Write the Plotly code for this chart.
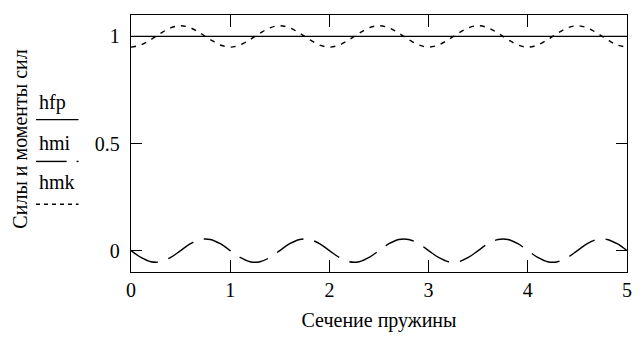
import plotly.graph_objects as go

x_vals = [round(i * 0.1, 1) for i in range(51)]

hfp = [1.0] * 51

hmi = [0.000, -0.032, -0.052, -0.052, -0.032, 0.000, 0.032, 0.052, 0.052, 0.032,
       0.000, -0.032, -0.052, -0.052, -0.032, 0.000, 0.032, 0.052, 0.052, 0.032,
       0.000, -0.032, -0.052, -0.052, -0.032, 0.000, 0.032, 0.052, 0.052, 0.032,
       0.000, -0.032, -0.052, -0.052, -0.032, 0.000, 0.032, 0.052, 0.052, 0.032,
       0.000, -0.032, -0.052, -0.052, -0.032, 0.000, 0.032, 0.052, 0.052, 0.032,
       0.000]

hmk = [0.950, 0.960, 0.985, 1.015, 1.040, 1.050, 1.040, 1.015, 0.985, 0.960,
       0.950, 0.960, 0.985, 1.015, 1.040, 1.050, 1.040, 1.015, 0.985, 0.960,
       0.950, 0.960, 0.985, 1.015, 1.040, 1.050, 1.040, 1.015, 0.985, 0.960,
       0.950, 0.960, 0.985, 1.015, 1.040, 1.050, 1.040, 1.015, 0.985, 0.960,
       0.950, 0.960, 0.985, 1.015, 1.040, 1.050, 1.040, 1.015, 0.985, 0.960,
       0.950]

x_ticks = [0, 1, 2, 3, 4, 5]
y_ticks = [0, 0.5, 1]
y_tick_text = ["0", "0.5", "1"]
series_names = ["hfp", "hmi", "hmk"]

FONT = "Liberation Serif"

fig = go.Figure()
fig.add_trace(go.Scatter(x=x_vals, y=hfp, mode="lines", name="hfp",
                         line=dict(color="black", width=1.4)))
fig.add_trace(go.Scatter(x=x_vals, y=hmi, mode="lines", name="hmi",
                         line=dict(color="black", width=1.4, dash="30px,11px", shape="spline")))
fig.add_trace(go.Scatter(x=x_vals, y=hmk, mode="lines", name="hmk",
                         line=dict(color="black", width=1.4, dash="5px,6px", shape="spline")))

# layout helpers in pixel -> paper conversion
L, R, T, B = 131, 632, 15, 273
W, H = R - L, B - T
def px(xp):
    return (xp - L) / W
def py(yp):
    return (B - yp) / H

annotations = []
shapes = []
legend_items = [
    (series_names[0], 103, 120, "solid"),
    (series_names[1], 143, 162, "12px,5px"),
    (series_names[2], 183, 205, "4px,4px"),
]
for name, ty, ly, dash in legend_items:
    annotations.append(dict(text=name, x=px(36), y=py(ty), xref="paper", yref="paper",
                            xanchor="left", yanchor="middle", showarrow=False,
                            font=dict(family=FONT, size=20, color="black")))
    if name == "hmi":
        shapes.append(dict(type="line", xref="paper", yref="paper",
                           x0=px(35), x1=px(66), y0=py(ly), y1=py(ly),
                           line=dict(color="black", width=1.4)))
        shapes.append(dict(type="line", xref="paper", yref="paper",
                           x0=px(76), x1=px(78), y0=py(ly), y1=py(ly),
                           line=dict(color="black", width=1.4)))
    else:
        shapes.append(dict(type="line", xref="paper", yref="paper",
                           x0=px(35), x1=px(78), y0=py(ly), y1=py(ly),
                           line=dict(color="black", width=1.4, dash=dash)))

annotations.append(dict(text="Силы и моменты сил", x=px(18), y=py(140),
                        xref="paper", yref="paper", textangle=-90,
                        showarrow=False, xanchor="center", yanchor="middle",
                        font=dict(family=FONT, size=20, color="black")))

fig.update_layout(
    width=643, height=338,
    margin=dict(l=L, r=643 - R, t=T, b=338 - B),
    paper_bgcolor="white", plot_bgcolor="white",
    showlegend=False,
    font=dict(family=FONT, size=20, color="black"),
    annotations=annotations,
    shapes=shapes,
    xaxis=dict(range=[0, 5], tickvals=x_ticks, ticks="inside", ticklen=12,
               tickcolor="black", showgrid=False, zeroline=False,
               showline=True, linecolor="black", linewidth=1.4, mirror="ticks",
               title=dict(text="Сечение пружины", font=dict(family=FONT, size=20), standoff=12),
               tickfont=dict(family=FONT, size=20)),
    yaxis=dict(range=[-0.1, 1.1], tickvals=y_ticks, ticktext=y_tick_text,
               ticks="inside", ticklen=11, tickcolor="black",
               showgrid=False, zeroline=False, ticklabelstandoff=6,
               showline=True, linecolor="black", linewidth=1.4, mirror="ticks",
               tickfont=dict(family=FONT, size=20)),
)

fig.write_html("out.html")
